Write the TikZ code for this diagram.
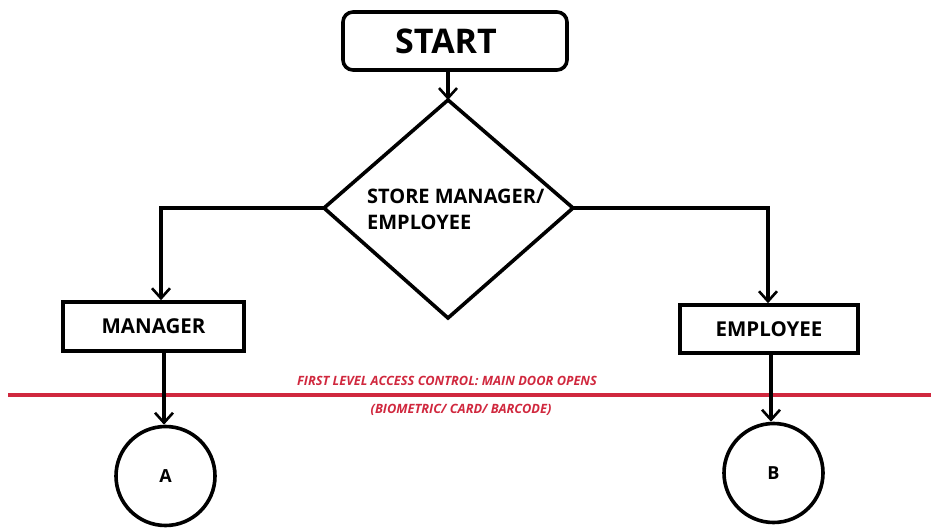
\documentclass[tikz,border=0pt]{standalone}
\usepackage{fontspec}
\setmainfont{Open Sans}
\usetikzlibrary{arrows.meta,shapes.geometric}
\definecolor{accessred}{HTML}{D0283E}
\begin{document}
\begin{tikzpicture}[x=1pt,y=-1pt,
  line width=3.6pt,
  flow/.style={-{Straight Barb[length=10pt,width=18pt,line width=2.6pt]}},
  boxlbl/.style={font=\bfseries\fontsize{20.5}{24}\selectfont},
  circlbl/.style={draw,circle,minimum size=99pt,font=\bfseries\fontsize{18}{20}\selectfont},
  redlbl/.style={text=accessred,font=\bfseries\itshape\fontsize{12.8}{15}\selectfont}]
  \useasboundingbox (0,0) rectangle (931,529);
  % start terminal
  \node[draw,rounded corners=10pt,minimum width=224pt,minimum height=58pt] (start) at (455,41) {};
  \node[font=\bfseries\fontsize{34}{38}\selectfont] (startlbl) at (446,41) {START};
  % decision diamond
  \coordinate (dtop) at (448,100);
  \coordinate (dleft) at (324,208);
  \coordinate (dright) at (573,208);
  \coordinate (dbot) at (448,318);
  \draw[line join=miter] (dtop) -- (dright) -- (dbot) -- (dleft) -- cycle;
  \node[align=left,anchor=west,font=\bfseries\fontsize{20}{26}\selectfont] (dlbl) at (362,209)
    {STORE MANAGER/\\EMPLOYEE};
  % role boxes
  \node[draw,boxlbl,minimum width=181pt,minimum height=49pt] (mgr) at (153.5,326.5) {MANAGER};
  \node[draw,boxlbl,minimum width=178pt,minimum height=48pt] (emp) at (769,329) {EMPLOYEE};
  % connector circles
  \node[circlbl] (ca) at (165.5,476) {A};
  \node[circlbl] (cb) at (773.5,473) {B};
  % access control boundary
  \draw[accessred,line width=4pt] (8,395) -- (931,395);
  \node[redlbl] (lvl) at (447,381) {FIRST LEVEL ACCESS CONTROL: MAIN DOOR OPENS};
  \node[redlbl] (mode) at (461,410) {(BIOMETRIC/ CARD/ BARCODE)};
  % flow
  \draw[flow] (start.south -| dtop) -- (dtop);
  \draw[flow] (dleft) -| (mgr.north -| 161,0);
  \draw[flow] (dright) -| (emp.north -| 768,0);
  \draw[flow] (mgr.south -| 164,0) -- (ca.north -| 164,0);
  \draw[flow] (emp.south -| 771,0) -- (cb.north -| 771,0);
\end{tikzpicture}
\end{document}
